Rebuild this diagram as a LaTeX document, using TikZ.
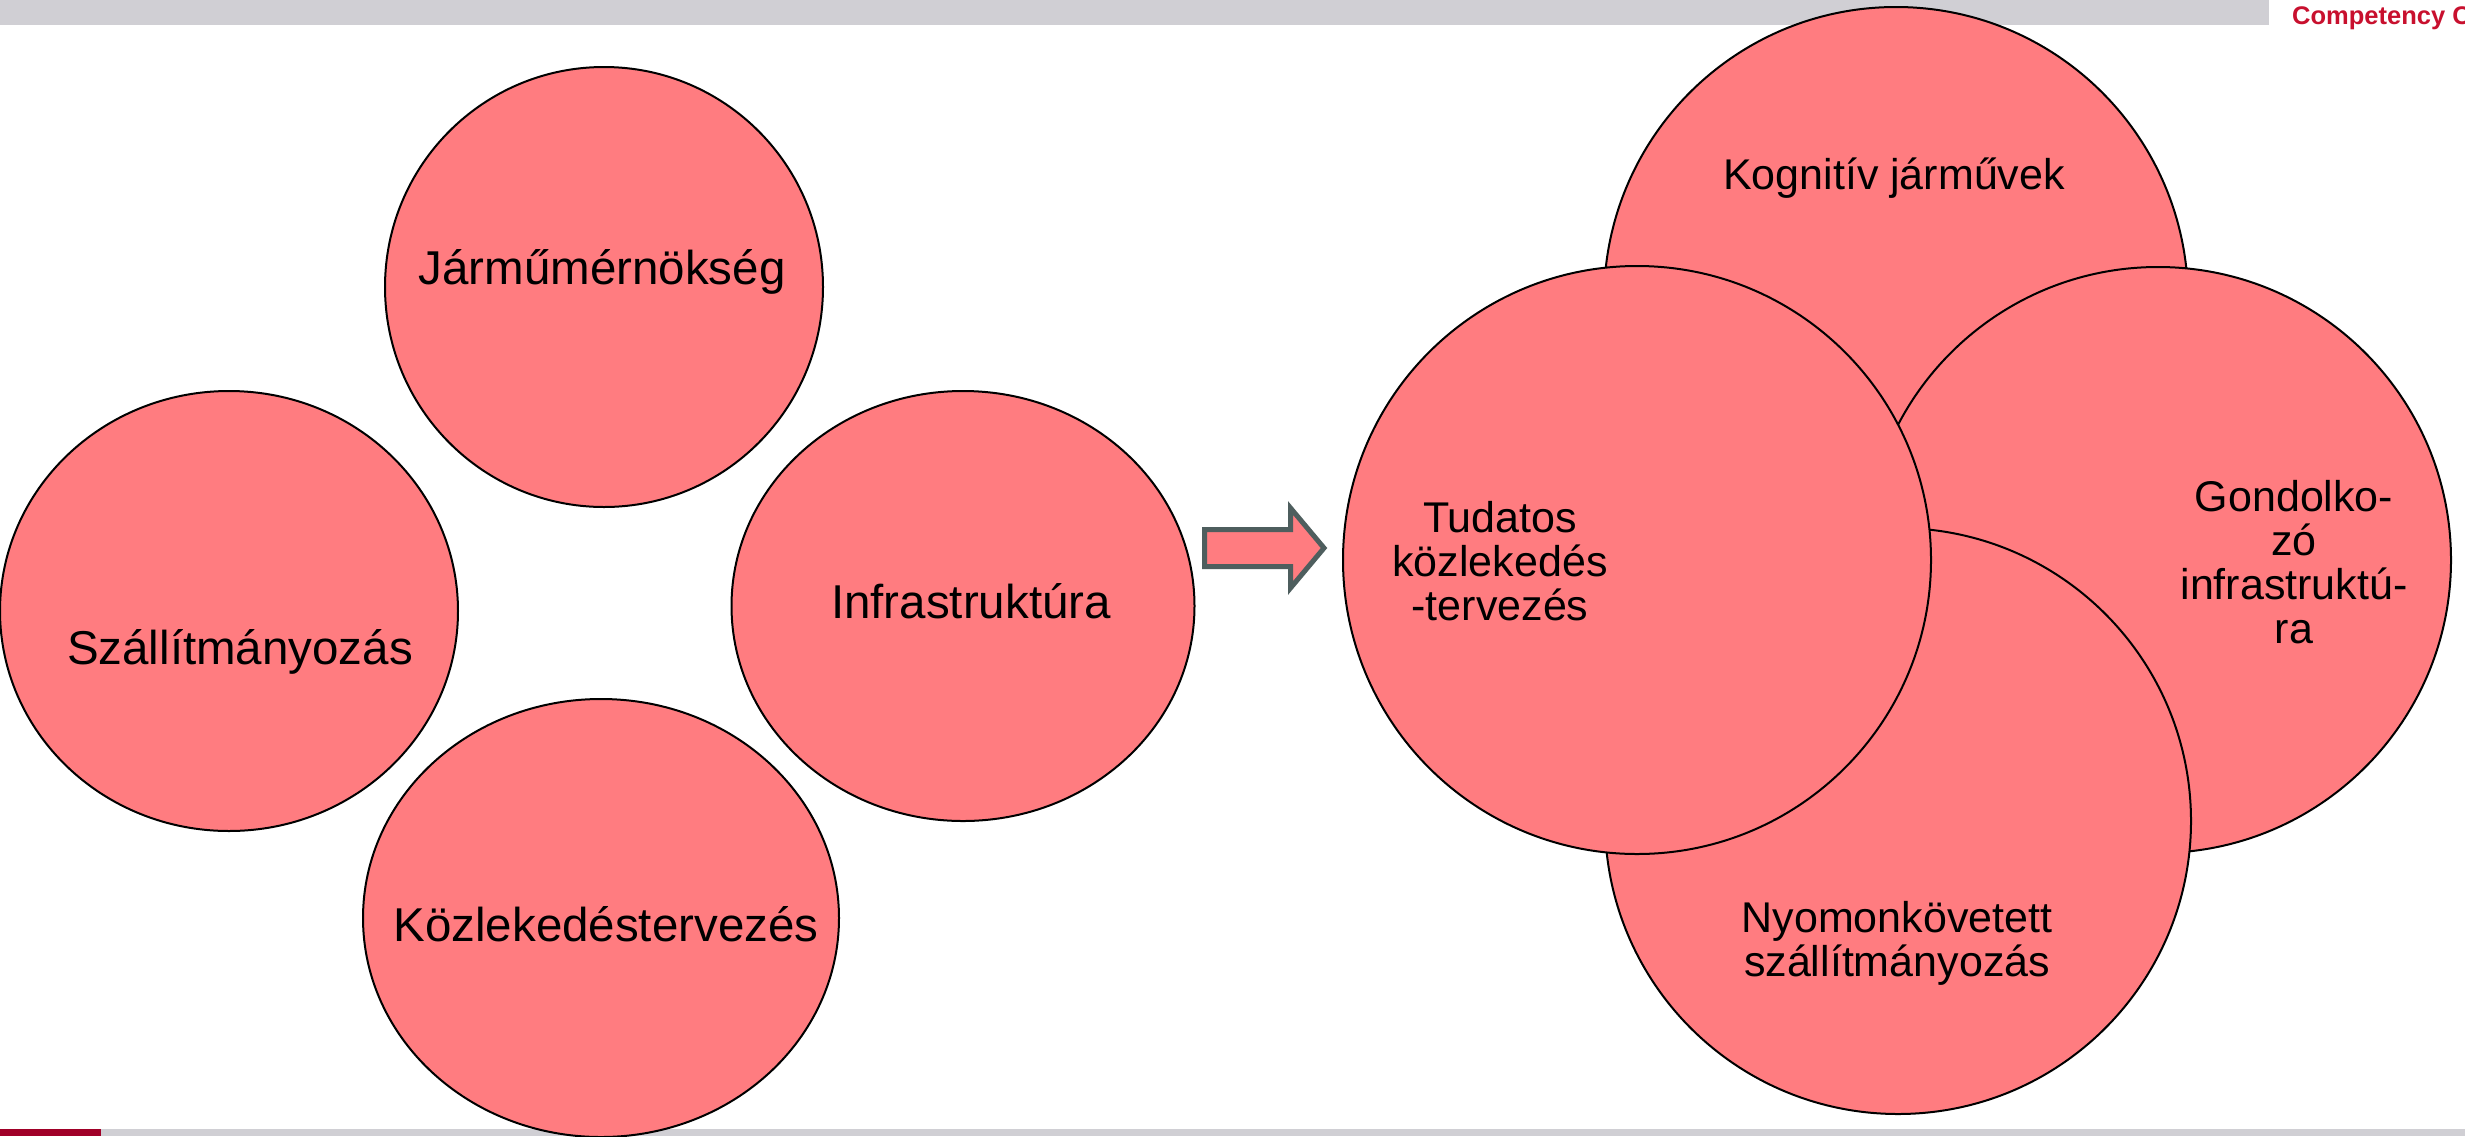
\documentclass[tikz,border=0pt]{standalone}
\usepackage{fontspec}
\setmainfont{Liberation Sans}
\usetikzlibrary{shapes.geometric}
\definecolor{bubble}{RGB}{255,124,128}
\definecolor{bargray}{RGB}{208,207,212}
\definecolor{barred}{RGB}{160,0,40}
\definecolor{titlered}{RGB}{200,16,46}
\definecolor{arrowedge}{RGB}{78,94,94}
\tikzset{
  bubble/.style={ellipse, draw=black, line width=2pt, fill=bubble, inner sep=0pt, outer sep=0pt},
  biglabel/.style={font=\fontsize{47.5}{52}\selectfont, inner sep=0pt, align=center},
  smalllabel/.style={font=\fontsize{43}{44}\selectfont, inner sep=0pt, align=center},
}
\begin{document}
\begin{tikzpicture}[x=1pt,y=-1pt]
\useasboundingbox (0,0) rectangle (2465,1136);
\fill[white] (0,0) rectangle (2465,1136);
% header / footer bars
\fill[bargray] (0,0) rectangle (2269,25);
\node[anchor=base west, inner sep=0pt, text=titlered, font=\fontsize{25.5}{30}\selectfont\bfseries] (title) at (2292,24) {Competency C};
\fill[bargray] (0,1129) rectangle (2465,1136);
\fill[barred] (0,1129) rectangle (101,1136);
% left group
\node[bubble, minimum width=438pt, minimum height=440pt] (jm) at (604,287) {};
\node[biglabel] (jmt) at (602,272) {Járműmérnökség};
\node[bubble, minimum width=458pt, minimum height=440pt] (sz) at (229,611) {};
\node[biglabel] (szt) at (240,652) {Szállítmányozás};
\node[bubble, minimum width=463pt, minimum height=430pt] (inf) at (963,606) {};
\node[biglabel] (inft) at (971,601) {Infrastruktúra};
\node[bubble, minimum width=476pt, minimum height=438pt] (kt) at (601,918) {};
\node[biglabel] (ktt) at (606,924) {Közlekedéstervezés};
% arrow
\draw[line width=5pt, draw=arrowedge, fill=bubble, line join=miter]
  (1204.5,529.5) -- (1290.5,529.5) -- (1290.5,508) -- (1324,548) -- (1290.5,588) -- (1290.5,566.5) -- (1204.5,566.5) -- cycle;
% right group
\node[bubble, minimum width=584pt, minimum height=586pt] (kog) at (1896,300) {};
\node[smalllabel] (kogt) at (1894,178) {Kognitív járművek};
\node[bubble, minimum width=586pt, minimum height=586pt] (gon) at (2158,560) {};
\node[smalllabel] (gont) at (2294,562) {Gondolko-\\zó\\infrastruktú-\\ra};
\node[bubble, minimum width=586pt, minimum height=586pt] (nyo) at (1898,821) {};
\node[smalllabel] (nyot) at (1897,943) {Nyomonkövetett\\szállítmányozás};
\node[bubble, minimum width=588pt, minimum height=588pt] (tud) at (1637,560) {};
\node[smalllabel] (tudt) at (1500,561) {Tudatos\\közlekedés\\-tervezés};
\end{tikzpicture}
\end{document}
